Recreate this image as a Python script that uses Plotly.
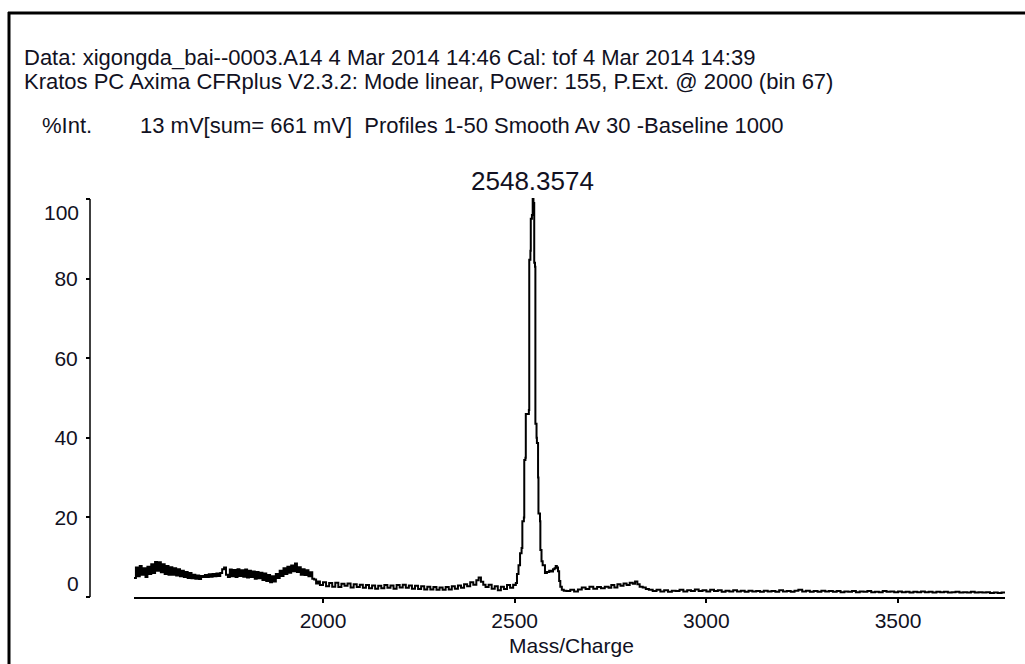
import plotly.graph_objects as go

# ---------------- data ----------------
mz_low = [1507, 1512, 1517, 1522, 1527, 1532, 1537, 1542, 1547, 1552, 1557, 1562, 1567, 1572, 1577,
          1582, 1587, 1592, 1597, 1602, 1607, 1612, 1617, 1622, 1627, 1632, 1637, 1642, 1647, 1652,
          1657, 1662, 1667, 1672, 1677, 1682, 1687, 1692, 1697, 1702, 1707, 1712, 1717, 1722, 1727,
          1732, 1737, 1742, 1747, 1752, 1757, 1762, 1767, 1772, 1777, 1782, 1787, 1792, 1797, 1802,
          1807, 1812, 1817, 1822, 1827, 1832, 1837, 1842, 1847, 1852, 1857, 1862, 1867, 1872, 1877,
          1882, 1887, 1892, 1897, 1902, 1907, 1912, 1917, 1922, 1927, 1932, 1937, 1942, 1947, 1952,
          1957, 1962, 1967, 1972, 1977, 1982, 1987]
int_low = [4.8, 7.4, 5.2, 7.8, 5.6, 7.2, 5.0, 7.6, 5.8, 8.2, 6.0, 8.8, 6.6, 8.7, 6.2,
           8.2, 5.8, 7.8, 5.6, 7.5, 5.6, 7.2, 5.4, 7.0, 5.2, 6.6, 5.0, 6.3, 4.8, 6.0,
           4.7, 5.6, 4.6, 5.4, 4.5, 5.3, 5.0, 5.5, 5.0, 5.7, 5.1, 5.8, 5.2, 5.9, 5.3,
           6.0, 7.0, 7.4, 5.6, 5.0, 6.9, 5.2, 6.8, 5.0, 7.0, 5.3, 6.7, 5.1, 6.9, 4.9,
           6.6, 5.0, 6.4, 4.6, 6.3, 4.7, 6.1, 4.3, 5.9, 4.0, 5.5, 3.7, 5.2, 3.9, 5.8,
           4.8, 6.6, 5.3, 7.2, 5.8, 7.6, 6.1, 7.9, 6.5, 8.4, 6.3, 7.5, 5.6, 7.0, 5.5,
           6.7, 5.2, 6.2, 4.6, 4.4, 3.4, 3.9]

mz_mid = [1992, 2000, 2008, 2016, 2024, 2032, 2040, 2048, 2056, 2064, 2072, 2080, 2088, 2096, 2104,
          2112, 2120, 2128, 2136, 2144, 2152, 2160, 2168, 2176, 2184, 2192, 2200, 2208, 2216, 2224,
          2232, 2240, 2248, 2256, 2264, 2272, 2280, 2288, 2296, 2304, 2312, 2320, 2328, 2336, 2344,
          2352, 2360, 2368, 2376, 2384, 2392, 2400, 2406, 2412, 2418, 2424, 2432, 2440, 2448, 2456,
          2464, 2472, 2480, 2488, 2496]
int_mid = [3.0, 3.7, 2.7, 3.5, 2.6, 3.6, 2.5, 3.3, 2.8, 3.4, 2.4, 3.2, 2.5, 3.1, 2.3,
           3.0, 2.2, 2.9, 2.1, 2.8, 2.2, 3.0, 2.3, 2.9, 2.1, 3.0, 2.4, 3.1, 2.3, 2.9,
           2.1, 2.8, 2.0, 2.7, 1.9, 2.6, 1.9, 2.5, 1.8, 2.4, 1.8, 2.5, 1.9, 2.7, 2.1,
           2.9, 2.3, 3.2, 2.7, 3.7, 3.1, 4.2, 4.9, 3.8, 3.1, 2.5, 3.1, 2.1, 2.7, 1.7,
           2.6, 2.0, 3.0, 2.3, 3.1]

mz_peak = [2500, 2503, 2506, 2510, 2514, 2518, 2520, 2524, 2525, 2528, 2529, 2537, 2538, 2541, 2542,
           2545, 2547, 2549, 2551, 2553, 2554, 2557, 2558, 2561, 2562, 2566, 2567, 2570, 2573, 2579,
           2584, 2590, 2595, 2600, 2604, 2607, 2610, 2613, 2616, 2619, 2623, 2628]
int_peak = [3.0, 3.5, 5.8, 8.0, 11.0, 12.3, 19.0, 20.0, 34.4, 35.0, 46.0, 47.0, 84.7, 87.0, 95.0,
            96.0, 100.0, 99.0, 84.0, 83.0, 43.5, 40.0, 38.7, 30.0, 21.0, 19.0, 11.8, 9.0, 8.0, 6.0,
            6.3, 6.6, 6.4, 7.0, 7.2, 7.8, 7.4, 6.5, 4.0, 2.6, 1.8, 1.6]

mz_high = [2635, 2645, 2655, 2665, 2675, 2685, 2695, 2705, 2715, 2725, 2735, 2745, 2752, 2760, 2768,
           2776, 2784, 2792, 2800, 2808, 2814, 2820, 2826, 2834, 2842, 2850, 2860, 2870, 2880, 2890,
           2900, 2910, 2920, 2930, 2940, 2950, 2960, 2970, 2980, 2990, 3000, 3010, 3020, 3030, 3040,
           3050, 3060, 3070, 3080, 3090, 3100, 3110, 3120, 3130, 3140, 3150, 3160, 3170, 3180, 3190,
           3200, 3210, 3220, 3230, 3240, 3250, 3260, 3270, 3280, 3290, 3300, 3310, 3320, 3330, 3340,
           3350, 3360, 3370, 3380, 3390, 3400, 3410, 3420, 3430, 3440, 3450, 3460, 3470, 3480, 3490,
           3500, 3510, 3520, 3530, 3540, 3550, 3560, 3570, 3580, 3590, 3600, 3610, 3620, 3630, 3640,
           3650, 3660, 3670, 3680, 3690, 3700, 3710, 3720, 3730, 3740, 3750, 3760, 3770, 3779]
int_high = [1.5, 1.8, 1.4, 1.9, 2.4, 2.0, 2.6, 2.1, 2.5, 2.2, 2.6, 2.3, 3.0, 2.4, 3.2,
            2.8, 3.4, 3.0, 3.6, 3.3, 3.9, 3.2, 2.6, 2.4, 2.0, 1.8, 1.5, 1.8, 1.4, 1.7,
            1.3, 1.6, 1.5, 1.8, 1.4, 1.7, 1.5, 1.9, 1.5, 1.7, 1.4, 1.8, 1.5, 1.7, 1.3,
            1.6, 1.4, 1.7, 1.4, 1.6, 1.3, 1.6, 1.4, 1.5, 1.3, 1.6, 1.4, 1.5, 1.3, 1.7,
            1.4, 1.5, 1.3, 1.6, 1.8, 1.4, 1.6, 1.3, 1.5, 1.3, 1.6, 1.4, 1.5, 1.3, 1.5,
            1.2, 1.4, 1.3, 1.5, 1.2, 1.4, 1.3, 1.5, 1.2, 1.3, 1.2, 1.5, 1.3, 1.4, 1.2,
            1.4, 1.2, 1.3, 1.1, 1.3, 1.2, 1.4, 1.2, 1.3, 1.1, 1.3, 1.2, 1.3, 1.1, 1.2,
            1.3, 1.1, 1.2, 1.1, 1.3, 1.1, 1.2, 1.1, 1.2, 1.0, 1.1, 1.0, 1.1, 1.0]

x_ticks = [2000, 2500, 3000, 3500]
y_ticks = [0, 20, 40, 60, 80, 100]
y_tick_text = ["", "20", "40", "60", "80", ""]
peak_label = "2548.3574"
header_lines = [
    "Data: xigongda_bai--0003.A14 4 Mar 2014 14:46 Cal: tof 4 Mar 2014 14:39",
    "Kratos PC Axima CFRplus V2.3.2: Mode linear, Power: 155, P.Ext. @ 2000 (bin 67)",
]
int_label = "%Int."
info_line = "13 mV[sum= 661 mV]  Profiles 1-50 Smooth Av 30 -Baseline 1000"
x_title = "Mass/Charge"

mz = mz_low + mz_mid + mz_peak + mz_high
intensity = int_low + int_mid + int_peak + int_high

# ---------------- layout geometry (pixels) ----------------
W, H = 1025, 664
L, R, T, B = 90, 20, 191, 67
PW, PH = W - L - R, H - T - B


def px(x):
    return (x - L) / PW


def py(y):
    return (H - B - y) / PH


FONT = "Liberation Sans, Arial, sans-serif"
TXT = "#111122"
HDR = 22     # header font size
TCK = 21     # tick / axis title font size

fig = go.Figure()
fig.add_trace(go.Scatter(x=mz, y=intensity, mode="lines",
                         line=dict(color="black", width=2, shape="hv"),
                         hoverinfo="skip", showlegend=False))

fig.update_layout(
    width=W, height=H,
    margin=dict(l=L, r=R, t=T, b=B, pad=0),
    paper_bgcolor="white", plot_bgcolor="white",
    font=dict(family=FONT, color=TXT, size=TCK),
    xaxis=dict(domain=[px(134), 1], range=[1507, 3779], tickvals=x_ticks,
               ticks="outside", ticklen=4, tickwidth=1.5, tickcolor="black",
               showline=True, linecolor="black", linewidth=1.5,
               showgrid=False, zeroline=False,
               tickfont=dict(size=TCK, family=FONT, color=TXT)),
    yaxis=dict(anchor="free", position=0, range=[0, 102], tickvals=y_ticks,
               ticktext=y_tick_text, ticks="outside", ticklen=4, tickwidth=1.5,
               tickcolor="black", showline=False, showgrid=False, zeroline=False,
               ticklabelstandoff=4,
               tickfont=dict(size=TCK, family=FONT, color=TXT)),
)

shapes = [
    # y axis line (0..100)
    dict(type="line", xref="paper", yref="y", x0=0, x1=0, y0=0, y1=100,
         line=dict(color="black", width=1.5)),
    # outer frame (left and top)
    dict(type="line", xref="paper", yref="paper", x0=px(9), x1=px(9), y0=py(12), y1=py(670),
         line=dict(color="black", width=3)),
    dict(type="line", xref="paper", yref="paper", x0=px(8), x1=px(1030), y0=py(13), y1=py(13),
         line=dict(color="black", width=3)),
]
fig.update_layout(shapes=shapes)

ann = []
for i, line in enumerate(header_lines):
    ann.append(dict(text=line, xref="paper", yref="paper", x=px(22), y=py(58 + 23 * i),
                    xanchor="left", yanchor="middle", showarrow=False,
                    font=dict(size=HDR, family=FONT, color=TXT)))
ann.append(dict(text=int_label, xref="paper", yref="paper", x=px(40), y=py(126),
                xanchor="left", yanchor="middle", showarrow=False,
                font=dict(size=HDR, family=FONT, color=TXT)))
ann.append(dict(text=info_line, xref="paper", yref="paper", x=px(138), y=py(126),
                xanchor="left", yanchor="middle", showarrow=False,
                font=dict(size=HDR, family=FONT, color=TXT)))
ann.append(dict(text="100", xref="paper", yref="paper", x=px(81), y=py(212),
                xanchor="right", yanchor="middle", showarrow=False,
                font=dict(size=TCK, family=FONT, color=TXT)))
ann.append(dict(text="0", xref="paper", yref="paper", x=px(81), y=py(583),
                xanchor="right", yanchor="middle", showarrow=False,
                font=dict(size=TCK, family=FONT, color=TXT)))
ann.append(dict(text=peak_label, xref="x", yref="paper", x=2546, y=py(181),
                xanchor="center", yanchor="middle", showarrow=False,
                font=dict(size=26, family=FONT, color=TXT)))
ann.append(dict(text=x_title, xref="paper", yref="paper", x=px(571), y=py(645),
                xanchor="center", yanchor="middle", showarrow=False,
                font=dict(size=TCK, family=FONT, color=TXT)))
fig.update_layout(annotations=ann)

fig.write_html("out.html")
